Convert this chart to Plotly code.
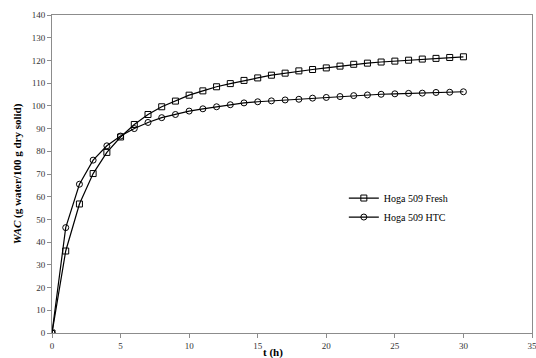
import plotly.graph_objects as go

t = list(range(0, 31))
fresh = [0, 36.1, 56.8, 70.2, 79.5, 86.3, 91.8, 96.2, 99.6, 102.1, 104.7, 106.6, 108.4, 109.8,
         111.2, 112.3, 113.5, 114.4, 115.4, 116.0, 116.7, 117.5, 118.3, 118.8, 119.3, 119.7,
         120.1, 120.6, 120.9, 121.3, 121.6]
htc = [0, 46.4, 65.5, 76.1, 82.4, 86.7, 90.0, 92.7, 94.8, 96.2, 97.7, 98.7, 99.6, 100.5,
       101.3, 101.8, 102.2, 102.6, 102.9, 103.4, 103.7, 104.1, 104.5, 104.8, 105.1, 105.3,
       105.5, 105.6, 105.9, 106.0, 106.2]
names = ["Hoga 509 Fresh", "Hoga 509 HTC"]
x_ticks = [0, 5, 10, 15, 20, 25, 30, 35]
y_ticks = list(range(0, 141, 10))

FONT = "Liberation Serif"
fig = go.Figure()
fig.add_trace(go.Scatter(x=t, y=fresh, name=names[0], mode="lines+markers",
                         line=dict(color="black", width=1.2),
                         marker=dict(symbol="square-open", size=6, color="black",
                                     line=dict(width=1, color="black"))))
fig.add_trace(go.Scatter(x=t, y=htc, name=names[1], mode="lines+markers",
                         line=dict(color="black", width=1.2),
                         marker=dict(symbol="circle-open", size=6, color="black",
                                     line=dict(width=1, color="black"))))

axis_common = dict(showgrid=False, zeroline=False, showline=True, linecolor="#8c8c8c",
                   linewidth=1, mirror=True, ticks="outside", ticklen=4, tickcolor="#8c8c8c",
                   automargin=False, ticklabeloverflow="allow",
                   tickfont=dict(family=FONT, size=9, color="#333333"))
fig.update_xaxes(range=[0, 35], tickvals=x_ticks, **axis_common)
fig.update_yaxes(range=[0, 140], tickvals=y_ticks,
                 title=dict(text="<b><i>WAC</i> (g water/100 g dry solid)</b>",
                            font=dict(family=FONT, size=11, color="black"), standoff=7),
                 **axis_common)
fig.add_annotation(text="<b>t (h)</b>", xref="paper", yref="paper", x=0.46, y=-0.036,
                   xanchor="center", yanchor="top", showarrow=False,
                   font=dict(family=FONT, size=11, color="black"))
# figure slightly wider than the window (clipped), so the last tick label "35" is kept
fig.update_layout(width=540, height=358, margin=dict(l=52, r=8, t=15, b=25),
                  paper_bgcolor="white", plot_bgcolor="white",
                  legend=dict(x=0.608, y=0.47, xanchor="left", yanchor="top",
                              font=dict(family=FONT, size=10, color="black"),
                              itemwidth=30, tracegroupgap=6, bgcolor="rgba(0,0,0,0)"),
                  showlegend=True)
fig.write_html("out.html",
               config={"displayModeBar": False},
               post_script="document.body.style.margin='0';"
                           "document.body.style.overflow='hidden';"
                           "document.documentElement.style.overflow='hidden';")
